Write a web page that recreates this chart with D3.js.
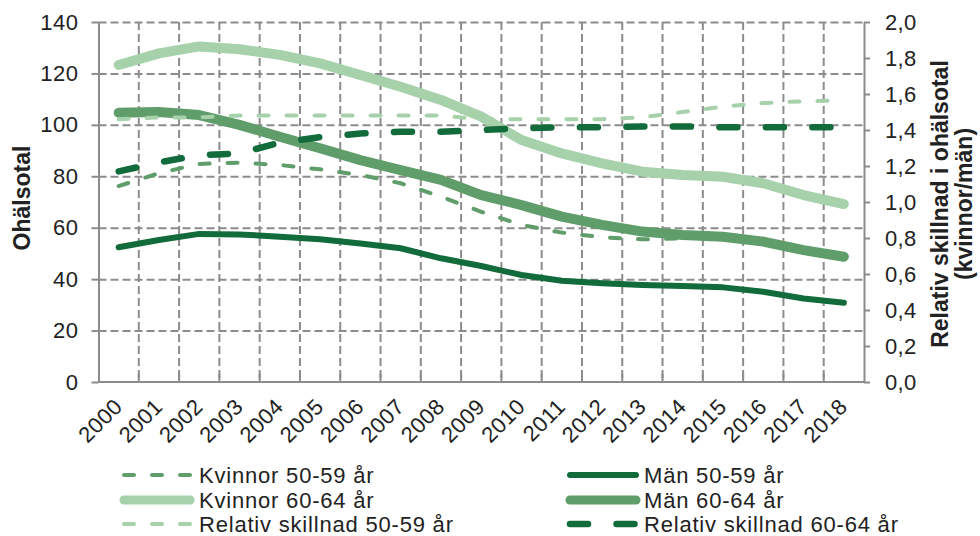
<!DOCTYPE html>
<html>
<head>
<meta charset="utf-8">
<script src="https://cdn.jsdelivr.net/npm/d3@7"></script>
<style>
  html, body { margin: 0; padding: 0; background: #fff; }
  svg { display: block; font-family: "Liberation Sans", Arial, sans-serif; }
</style>
</head>
<body>
<svg id="chart" width="980" height="536"></svg>
<script>
// Ohälsotal by sex and age group, 2000–2018, with the relative difference (women/men)
const years = ["2000","2001","2002","2003","2004","2005","2006","2007","2008","2009",
               "2010","2011","2012","2013","2014","2015","2016","2017","2018"];

const kvinnor5059 = [76.2, 81.2, 84.8, 85.3, 84.4, 82.7, 80.5, 77.3, 72.1, 66.2,
                     61.1, 58.1, 56.3, 55.5, 55.9, 56.2, 54.3, 50.7, 48.2];
const man5059     = [52.4, 55.2, 57.6, 57.4, 56.5, 55.5, 53.9, 52.0, 48.1, 45.1,
                     41.6, 39.4, 38.4, 37.7, 37.3, 36.8, 35.1, 32.5, 30.8];
const kvinnor6064 = [123.3, 127.8, 130.5, 129.4, 127.2, 123.9, 119.4, 114.8, 109.7, 103.2,
                     94.1, 88.9, 85.0, 81.8, 80.5, 79.8, 77.3, 72.7, 69.2];
const man6064     = [104.7, 105.0, 103.8, 100.0, 95.4, 90.9, 86.3, 82.4, 78.6, 72.7,
                     68.8, 64.3, 61.1, 58.5, 57.2, 56.5, 54.6, 51.3, 48.7];
const relativ5059 = [1.46, 1.47, 1.47, 1.48, 1.48, 1.48, 1.48, 1.48, 1.48, 1.46,
                     1.46, 1.46, 1.46, 1.47, 1.50, 1.53, 1.55, 1.56, 1.565];
const relativ6064 = [1.17, 1.22, 1.26, 1.27, 1.33, 1.36, 1.38, 1.39, 1.39, 1.40,
                     1.41, 1.415, 1.415, 1.42, 1.42, 1.415, 1.415, 1.415, 1.415];

const leftTicks  = [0, 20, 40, 60, 80, 100, 120, 140];
const rightTicks = [0, 0.2, 0.4, 0.6, 0.8, 1.0, 1.2, 1.4, 1.6, 1.8, 2.0];

const leftTitle  = "Ohälsotal";
const rightTitle = ["Relativ skillnad i ohälsotal", "(kvinnor/män)"];

const cLight = "#a6d1ab", cMid = "#5f9d6b", cDark = "#116b3b";
const gridColor = "#8c8c8c", textColor = "#222";

// series, in drawing order
const series = [
  { name: "Kvinnor 50-59 år",          values: kvinnor5059, axis: "L", color: cMid,   width: 4,   dash: "10,18" },
  { name: "Män 50-59 år",              values: man5059,     axis: "L", color: cDark,  width: 6,   dash: null },
  { name: "Kvinnor 60-64 år",          values: kvinnor6064, axis: "L", color: cLight, width: 10,  dash: null },
  { name: "Män 60-64 år",              values: man6064,     axis: "L", color: cMid,   width: 10,  dash: null },
  { name: "Relativ skillnad 50-59 år", values: relativ5059, axis: "R", color: cLight, width: 4,   dash: "10,18" },
  { name: "Relativ skillnad 60-64 år", values: relativ6064, axis: "R", color: cDark,  width: 6.5, dash: "18,28.5" }
];

// legend placement: [column, row]
const legendSlots = {
  "Kvinnor 50-59 år": [0, 0], "Kvinnor 60-64 år": [0, 1], "Relativ skillnad 50-59 år": [0, 2],
  "Män 50-59 år": [1, 0], "Män 60-64 år": [1, 1], "Relativ skillnad 60-64 år": [1, 2]
};

const plot = { left: 98.5, right: 864, top: 22, bottom: 382 };

const svg = d3.select("#chart");
svg.append("rect").attr("width", 980).attr("height", 536).attr("fill", "#fff");

const x = d3.scaleBand().domain(years).range([plot.left, plot.right]).paddingInner(0).paddingOuter(0);
const yL = d3.scaleLinear().domain([0, 140]).range([plot.bottom, plot.top]);
const yR = d3.scaleLinear().domain([0, 2]).range([plot.bottom, plot.top]);
const cx = d => x(d) + x.bandwidth() / 2;

// horizontal grid
const hGrid = svg.append("g").attr("transform", `translate(${plot.left},0)`)
  .call(d3.axisLeft(yL).tickValues(leftTicks.filter(v => v > 0))
          .tickSize(-(plot.right - plot.left)).tickFormat(""));
hGrid.select(".domain").remove();
hGrid.selectAll("line").attr("stroke", gridColor).attr("stroke-width", 2).attr("stroke-dasharray", "8,4");

// vertical grid at the category boundaries
svg.append("g").selectAll("line").data(years.slice(1)).join("line")
  .attr("x1", d => x(d)).attr("x2", d => x(d))
  .attr("y1", plot.top).attr("y2", plot.bottom)
  .attr("stroke", gridColor).attr("stroke-width", 2).attr("stroke-dasharray", "8,4");

// left axis
const axL = svg.append("g").attr("transform", `translate(${plot.left},0)`)
  .call(d3.axisLeft(yL).tickValues(leftTicks).tickSize(7).tickPadding(13).tickSizeOuter(0));
axL.select(".domain").attr("stroke", gridColor).attr("stroke-width", 2);
axL.selectAll(".tick line").attr("stroke", gridColor).attr("stroke-width", 2);
axL.selectAll("text").attr("fill", textColor).attr("font-size", 22).attr("letter-spacing", 0.5);

// right axis
const axR = svg.append("g").attr("transform", `translate(${plot.right},0)`)
  .call(d3.axisRight(yR).tickValues(rightTicks).tickSize(6).tickPadding(15).tickSizeOuter(0)
          .tickFormat(d => d3.format(".1f")(d).replace(".", ",")));
axR.select(".domain").attr("stroke", gridColor).attr("stroke-width", 2);
axR.selectAll(".tick line").attr("stroke", gridColor).attr("stroke-width", 2);
axR.selectAll("text").attr("fill", textColor).attr("font-size", 22).attr("letter-spacing", 0.3);

// category axis: line, inside ticks at boundaries, rotated labels
const axB = svg.append("g");
axB.append("line").attr("x1", plot.left).attr("x2", plot.right)
  .attr("y1", plot.bottom).attr("y2", plot.bottom)
  .attr("stroke", gridColor).attr("stroke-width", 2);
axB.selectAll("line.tk").data(years.slice(1)).join("line").attr("class", "tk")
  .attr("x1", d => x(d)).attr("x2", d => x(d))
  .attr("y1", plot.bottom).attr("y2", plot.bottom - 8)
  .attr("stroke", gridColor).attr("stroke-width", 2);
axB.selectAll("text").data(years).join("text")
  .attr("transform", d => `translate(${cx(d) + 5},${plot.bottom + 26}) rotate(-45)`)
  .attr("text-anchor", "end").attr("font-size", 22).attr("letter-spacing", 0.5).attr("fill", textColor)
  .text(d => d);

// axis titles
svg.append("text")
  .attr("transform", `translate(30,${(plot.top + plot.bottom) / 2 - 4}) rotate(-90)`)
  .attr("text-anchor", "middle").attr("font-size", 23).attr("font-weight", "bold")
  .attr("fill", textColor).text(leftTitle);
rightTitle.forEach((t, i) => {
  svg.append("text")
    .attr("transform", `translate(${948 + i * 24},${(plot.top + plot.bottom) / 2 + 2}) rotate(-90)`)
    .attr("text-anchor", "middle").attr("font-size", 23).attr("font-weight", "bold")
    .attr("fill", textColor).text(t);
});

// lines
const lineFor = s => d3.line()
  .x((v, i) => cx(years[i]))
  .y(v => (s.axis === "L" ? yL : yR)(v));

svg.append("g").selectAll("path").data(series).join("path")
  .attr("d", s => lineFor(s)(s.values))
  .attr("fill", "none")
  .attr("stroke", s => s.color)
  .attr("stroke-width", s => s.width)
  .attr("stroke-dasharray", s => s.dash)
  .attr("stroke-linecap", "round")
  .attr("stroke-linejoin", "round");

// legend
const legCols = [{ x1: 124, x2: 190, tx: 199 }, { x1: 570, x2: 636, tx: 644 }];
const legRows = [475, 500, 524];
const leg = svg.append("g").selectAll("g").data(series).join("g");
leg.append("line")
  .attr("x1", s => legCols[legendSlots[s.name][0]].x1)
  .attr("x2", s => legCols[legendSlots[s.name][0]].x2)
  .attr("y1", s => legRows[legendSlots[s.name][1]])
  .attr("y2", s => legRows[legendSlots[s.name][1]])
  .attr("stroke", s => s.color)
  .attr("stroke-width", s => s.width > 8 ? 9 : s.width)
  .attr("stroke-dasharray", s => s.dash)
  .attr("stroke-linecap", "round");
leg.append("text")
  .attr("x", s => legCols[legendSlots[s.name][0]].tx)
  .attr("y", s => legRows[legendSlots[s.name][1]] + 8)
  .attr("font-size", 22).attr("letter-spacing", 0.8).attr("fill", textColor)
  .text(s => s.name);
</script>
</body>
</html>
